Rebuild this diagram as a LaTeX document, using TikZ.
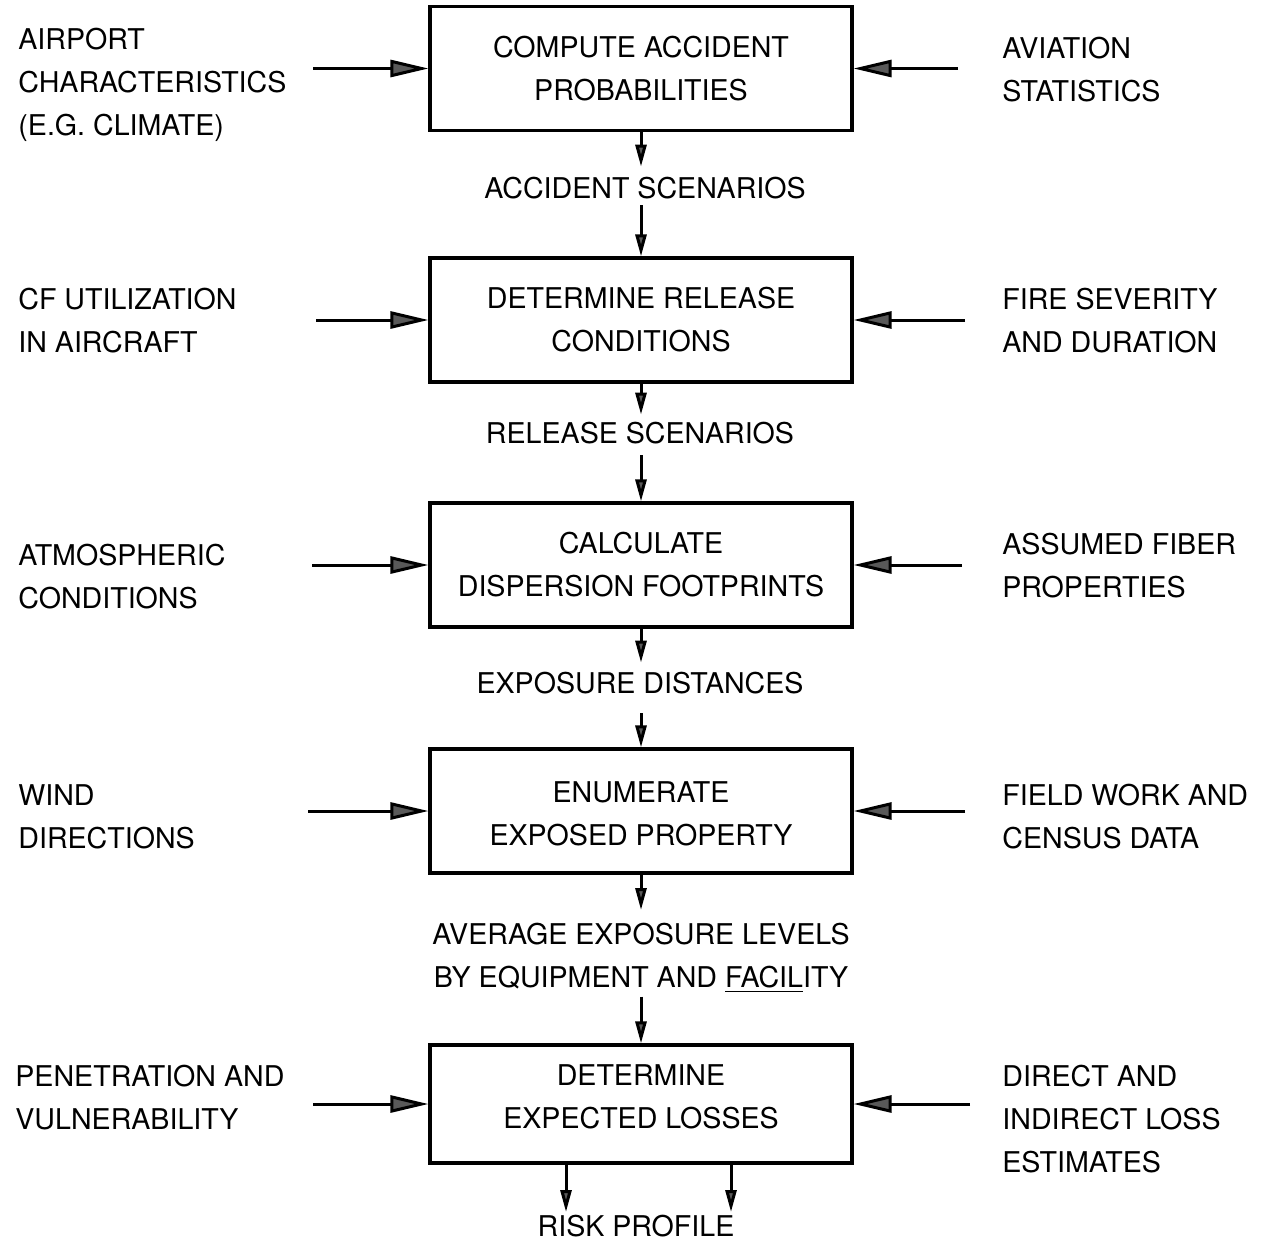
\documentclass[tikz,border=0pt]{standalone}
\usepackage{fontspec}
\setmainfont{TeX Gyre Heros}
\usetikzlibrary{arrows.meta}
\begin{document}
\begin{tikzpicture}[x=0.5pt,y=-0.5pt,
  every node/.style={font=\fontsize{14.3}{21.5}\selectfont},
  proc/.style={draw, line width=1.6pt, minimum width=211pt, minimum height=62pt, align=center, inner sep=0pt},
  lab/.style={anchor=north west, inner sep=0pt, align=left},
  mid/.style={inner sep=0pt, align=center, text height=10pt, text depth=0pt},
  harrow/.style={line width=1.5pt, -{Triangle[length=19pt,width=8.5pt,fill=black!65]}},
  varrow/.style={line width=1.5pt, -{Triangle[length=11pt,width=5.5pt,fill=black!65]}}]
\useasboundingbox (0,0) rectangle (1269,1242);

% process boxes
\node[proc] (b1) at (641,68.5) {COMPUTE ACCIDENT\\PROBABILITIES};
\node[proc] (b2) at (641,320) {DETERMINE RELEASE\\CONDITIONS};
\node[proc] (b3) at (641,565) {CALCULATE\\DISPERSION FOOTPRINTS};
\node[proc, text height=35pt] (b4) at (641,811) {ENUMERATE\\EXPOSED PROPERTY};
\node[proc, minimum height=59pt, text depth=7pt] (b5) at (641,1104) {DETERMINE\\EXPECTED LOSSES};

% middle labels
\node[mid] (l1) at (645,188) {ACCIDENT SCENARIOS};
\node[mid] (l2) at (640,433) {RELEASE SCENARIOS};
\node[mid] (l3) at (640,683) {EXPOSURE DISTANCES};
\node[inner sep=0pt, align=center, anchor=north] (l4) at (641,923) {AVERAGE EXPOSURE LEVELS\\BY EQUIPMENT AND \underline{FACIL}ITY};
\node[mid] (risk) at (636,1226) {RISK PROFILE};

% left labels
\node[lab] (in1) at (18,28) {AIRPORT\\CHARACTERISTICS\\(E.G. CLIMATE)};
\node[lab] (in2) at (18,288) {CF UTILIZATION\\IN AIRCRAFT};
\node[lab] (in3) at (18,544) {ATMOSPHERIC\\CONDITIONS};
\node[lab] (in4) at (18,784) {WIND\\DIRECTIONS};
\node[lab] (in5) at (15,1065) {PENETRATION AND\\VULNERABILITY};

% right labels
\node[lab] (ex1) at (1002,37) {AVIATION\\STATISTICS};
\node[lab] (ex2) at (1002,288) {FIRE SEVERITY\\AND DURATION};
\node[lab] (ex3) at (1002,533) {ASSUMED FIBER\\PROPERTIES};
\node[lab] (ex4) at (1002,784) {FIELD WORK AND\\CENSUS DATA};
\node[lab] (ex5) at (1002,1065) {DIRECT AND\\INDIRECT LOSS\\ESTIMATES};

% arrow start points
\coordinate (li1) at (313,0);
\coordinate (li2) at (316,0);
\coordinate (li3) at (312,0);
\coordinate (li4) at (308,0);
\coordinate (li5) at (313,0);
\coordinate (ri1) at (958,0);
\coordinate (ri2) at (965,0);
\coordinate (ri3) at (962,0);
\coordinate (ri4) at (965,0);
\coordinate (ri5) at (970,0);

\draw[harrow] (b1.west -| li1) -- (b1.west);
\draw[harrow] (b2.west -| li2) -- (b2.west);
\draw[harrow] (b3.west -| li3) -- (b3.west);
\draw[harrow] (b4.west -| li4) -- (b4.west);
\draw[harrow] (b5.west -| li5) -- (b5.west);
\draw[harrow] (b1.east -| ri1) -- (b1.east);
\draw[harrow] (b2.east -| ri2) -- (b2.east);
\draw[harrow] (b3.east -| ri3) -- (b3.east);
\draw[harrow] (b4.east -| ri4) -- (b4.east);
\draw[harrow] (b5.east -| ri5) -- (b5.east);

% vertical flow
\draw[varrow, shorten >=5.5pt] (b1.south) -- (b1.south |- l1.north);
\draw[varrow, shorten <=3.5pt] (b2.north |- l1.south) -- (b2.north);
\draw[varrow, shorten >=4pt] (b2.south) -- (b2.south |- l2.north);
\draw[varrow, shorten <=6pt] (b3.north |- l2.south) -- (b3.north);
\draw[varrow, shorten >=5pt] (b3.south) -- (b3.south |- l3.north);
\draw[varrow, shorten <=10pt] (b4.north |- l3.south) -- (b4.north);
\draw[varrow, shorten >=6.5pt] (b4.south) -- (b4.south |- l4.north);
\draw[varrow, shorten <=2pt] (b5.north |- l4.south) -- (b5.north);

\coordinate (r1) at (566,1212);
\coordinate (r2) at (731,1212);
\draw[varrow] (b5.south -| r1) -- (r1);
\draw[varrow] (b5.south -| r2) -- (r2);
\end{tikzpicture}
\end{document}
